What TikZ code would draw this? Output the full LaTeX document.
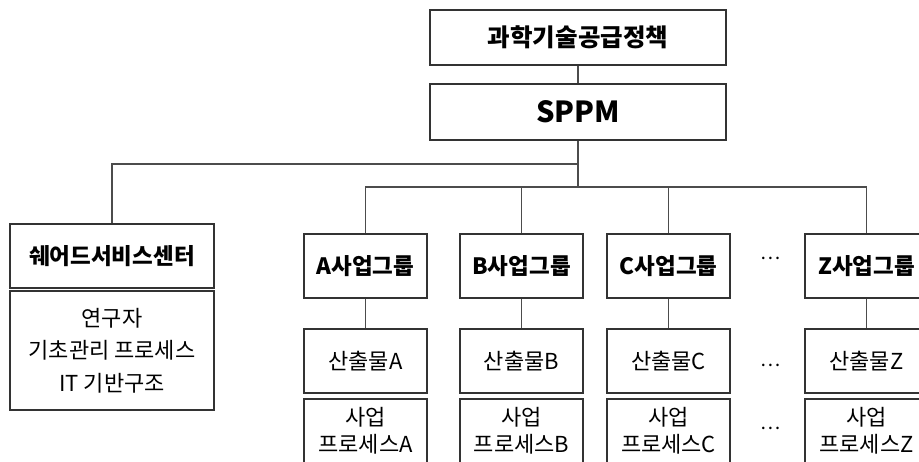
\documentclass[tikz,border=0pt]{standalone}
\usepackage{fontspec}
\setmainfont{Noto Sans CJK KR}
\begin{document}
\begin{tikzpicture}[x=1pt,y=-1pt,
  box/.style={draw=black!80,line width=1.3pt,minimum width=#1,inner sep=0pt,align=center,fill=white},
  line/.style={draw=black!70,line width=1.3pt},
  tb/.style={font=\fontsize{24.5}{28}\selectfont\bfseries},
  gb/.style={font=\fontsize{22.5}{26}\selectfont\bfseries},
  rt/.style={font=\fontsize{22}{32.5}\selectfont},
  pt/.style={font=\fontsize{22}{27}\selectfont},
  dt/.style={font=\fontsize{19}{20}\selectfont}]
\useasboundingbox (0,0) rectangle (919,461);
\clip (0,0) rectangle (919,461);
% top
\node[box=296pt,minimum height=55pt,tb] (top) at (578,37.5) {과학기술공급정책};
\node[box=296pt,minimum height=56pt,font=\fontsize{29}{32}\selectfont\bfseries] (sppm) at (578,112) {SPPM};
% shared service
\node[box=204pt,minimum height=64pt,gb] (share) at (112,256) {쉐어드서비스센터};
\node[box=204pt,minimum height=119pt,rt] (shareb) at (112,350.5) {연구자\\기초관리 프로세스\\IT 기반구조};
% groups
\node[box=123pt,minimum height=64pt,gb] (ga) at (365.5,266) {A사업그룹};
\node[box=123pt,minimum height=64pt,gb] (gb) at (521.5,266) {B사업그룹};
\node[box=123pt,minimum height=64pt,gb] (gc) at (668.5,266) {C사업그룹};
\node[box=123pt,minimum height=64pt,gb] (gz) at (866.5,266) {Z사업그룹};
% products
\node[box=123pt,minimum height=64pt,rt] (pa) at (365.5,361) {산출물A};
\node[box=123pt,minimum height=64pt,rt] (pb) at (521.5,361) {산출물B};
\node[box=123pt,minimum height=64pt,rt] (pc) at (668.5,361) {산출물C};
\node[box=123pt,minimum height=64pt,rt] (pz) at (866.5,361) {산출물Z};
% processes
\node[box=123pt,minimum height=64pt,pt] (ra) at (365.5,431) {사업\\프로세스A};
\node[box=123pt,minimum height=64pt,pt] (rb) at (521.5,431) {사업\\프로세스B};
\node[box=123pt,minimum height=64pt,pt] (rc) at (668.5,431) {사업\\프로세스C};
\node[box=123pt,minimum height=64pt,pt] (rz) at (866.5,431) {사업\\프로세스Z};
% dots
\node[dt] (d1) at (771,258) {…};
\node[dt] (d2) at (771,365) {…};
\node[dt] (d3) at (771,428) {…};
% connectors
\coordinate (bus) at (578,187);
\coordinate (lbus) at (578,164);
\draw[line] (top.south) -- (sppm.north);
\draw[line] (sppm.south) -- (bus);
\draw[line] (lbus) -| (share.north);
\draw[line] (ga.north) -- (ga.north |- bus) -- (gz.north |- bus) -- (gz.north);
\draw[line] (gb.north) -- (gb.north |- bus);
\draw[line] (gc.north) -- (gc.north |- bus);
\draw[line] (ga.south) -- (pa.north);
\draw[line] (gb.south) -- (pb.north);
\draw[line] (gc.south) -- (pc.north);
\draw[line] (gz.south) -- (pz.north);
\end{tikzpicture}
\end{document}
